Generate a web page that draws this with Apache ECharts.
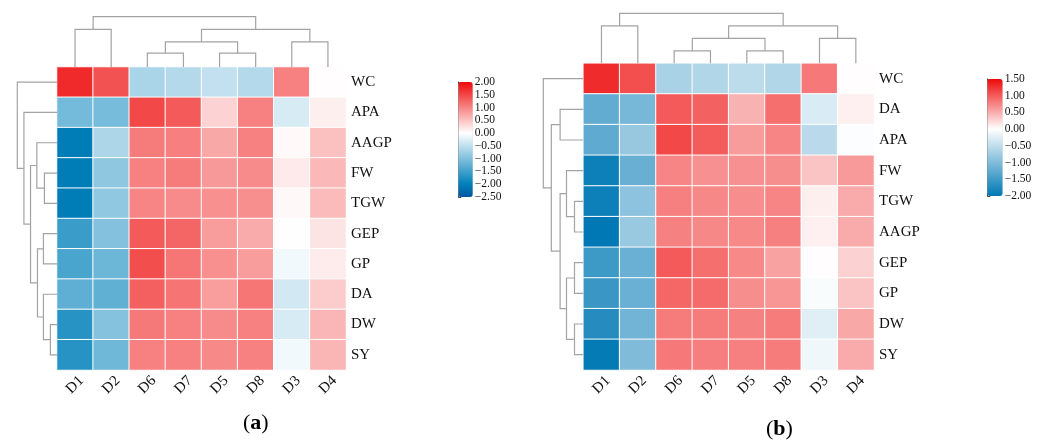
<!DOCTYPE html>
<html><head><meta charset="utf-8">
<script src="https://cdn.jsdelivr.net/npm/echarts@6/dist/echarts.min.js"></script>
<style>html,body{margin:0;padding:0;background:#fff}#c{width:1041px;height:445px}</style>
</head><body><div id="c"></div>
<script>
// ---------- data ----------
const cols = ['D1','D2','D6','D7','D5','D8','D3','D4'];
const rowsA = ['WC','APA','AAGP','FW','TGW','GEP','GP','DA','DW','SY'];
const rowsB = ['WC','DA','APA','FW','TGW','AAGP','GEP','GP','DW','SY'];

const valuesA = [
  [ 1.74, 1.41,-0.67,-0.59,-0.48,-0.59, 1.04, 0.02],
  [-1.09,-1.07, 1.49, 1.35, 0.37, 1.04,-0.31, 0.13],
  [-2.05,-0.64, 1.07, 1.05, 0.71, 1.04, 0.05, 0.52],
  [-2.05,-0.88, 1.03, 1.08, 0.84, 0.96, 0.17, 0.58],
  [-2.05,-0.87, 1.00, 0.96, 0.91, 0.92, 0.06, 0.56],
  [-1.55,-0.98, 1.35, 1.26, 0.81, 0.69, 0.01, 0.22],
  [-1.42,-1.16, 1.44, 1.13, 0.91, 0.81,-0.10, 0.16],
  [-1.26,-1.25, 1.30, 1.14, 0.80, 1.13,-0.35, 0.42],
  [-1.70,-0.96, 1.10, 1.04, 0.95, 1.04,-0.31, 0.60],
  [-1.70,-1.13, 1.04, 1.04, 0.97, 1.04,-0.10, 0.61]
];
const valuesB = [
  [ 1.30, 1.08,-0.67,-0.61,-0.52,-0.61, 0.83, 0.01],
  [-1.23,-1.07, 1.01, 0.97, 0.47, 0.88,-0.30, 0.09],
  [-1.26,-0.82, 1.12, 1.00, 0.61, 0.75,-0.54,-0.03],
  [-1.90,-1.19, 0.75, 0.68, 0.67, 0.69, 0.36, 0.62],
  [-1.90,-0.90, 0.78, 0.73, 0.70, 0.75, 0.10, 0.52],
  [-2.00,-0.81, 0.77, 0.73, 0.72, 0.78, 0.09, 0.51],
  [-1.52,-1.17, 1.01, 0.88, 0.72, 0.57, 0.01, 0.28],
  [-1.55,-1.17, 0.94, 0.91, 0.69, 0.65,-0.05, 0.36],
  [-1.70,-1.12, 0.81, 0.80, 0.77, 0.81,-0.24, 0.53],
  [-1.96,-1.00, 0.83, 0.79, 0.78, 0.81,-0.12, 0.52]
];

// dendrogram merges: [left, right, height]; numbers refer to earlier merges
const colMergesA = [['D6','D7',1.1],['D5','D8',1.1],[0,1,2.0],['D3','D4',2.0],[2,3,3.0],['D1','D2',3.0],[5,4,4.0]];
const colMergesB = [['D6','D7',1.0],['D5','D8',1.0],[0,1,2.0],['D3','D4',2.0],[2,3,3.0],['D1','D2',3.0],[5,4,4.0]];
const rowMergesA = [['FW','TGW',1.9],['AAGP',0,3.05],['GEP','GP',2.05],['DW','SY',1.0],['DA',3,2.05],[2,4,2.95],[1,5,4.0],['APA',6,5.0],['WC',7,6.0]];
const rowMergesB = [['DA','APA',2.9],['TGW','AAGP',1.1],['FW',1,2.1],['GEP','GP',1.1],['DW','SY',1.1],[3,4,2.1],[2,5,2.9],[0,6,4.0],['WC',7,5.0]];

const scaleTicksA = [-2.5, 2.0];
const scaleTicksB = [-2.0, 1.5];

// ---------- helpers ----------
function linkSegments(order, merges){
  const pos = [], hts = [], out = [];
  const get = (k) => typeof k === 'number' ? [pos[k], hts[k]] : [order.indexOf(k), 0];
  merges.forEach((m, i) => {
    const a = get(m[0]), b = get(m[1]);
    pos[i] = (a[0] + b[0]) / 2; hts[i] = m[2];
    out.push([a[0], a[1], b[0], b[1], m[2]]);
  });
  return out;
}
function heatData(vals){
  const d = [];
  vals.forEach((row, r) => row.forEach((v, c) => d.push([c, r, v])));
  return d;
}
const LINE = {stroke:'#a3a3a3', lineWidth:1.2, fill:null};
function colDendro(params, api){
  const x1=api.value(0), h1=api.value(1), x2=api.value(2), h2=api.value(3), h=api.value(4);
  return {type:'polyline', shape:{points:[api.coord([x1,h1]),api.coord([x1,h]),api.coord([x2,h]),api.coord([x2,h2])]}, style:LINE};
}
function rowDendro(params, api){
  const y1=api.value(0), h1=api.value(1), y2=api.value(2), h2=api.value(3), h=api.value(4);
  return {type:'polyline', shape:{points:[api.coord([h1,y1]),api.coord([h,y1]),api.coord([h,y2]),api.coord([h2,y2])]}, style:LINE};
}
const FONT = 'Liberation Serif';
const fmt = v => (v < 0 ? '\u2212' : '') + Math.abs(v).toFixed(2);

// layout
const L = {
  a:{hx:57, hy:67, hw:289, hh:303, colTop:16.7, rowLeft:17.3, cb:[458.3,82,14.5,115]},
  b:{hx:583.3, hy:63.3, hw:290.7, hh:306.7, colTop:13.3, rowLeft:543.3, cb:[987.3,79,15.4,117]}
};

const grids=[], xAxes=[], yAxes=[], series=[], visualMaps=[];
function build(key, rows, vals, colM, rowM, ticks, colors){
  const g = L[key], base = grids.length;
  // heatmap grid
  grids.push({left:g.hx, top:g.hy, width:g.hw, height:g.hh});
  xAxes.push({type:'category', gridIndex:base, data:cols, axisLine:{show:false}, axisTick:{show:false},
    axisLabel:{rotate:45, margin:15, align:'center', verticalAlign:'middle', fontFamily:FONT, fontSize:15, color:'#111'}});
  yAxes.push({type:'category', gridIndex:base, data:rows, inverse:true, position:'right', axisLine:{show:false}, axisTick:{show:false},
    axisLabel:{margin:5, fontFamily:FONT, fontSize:15, color:'#111'}});
  const hIdx = series.length;
  series.push({type:'heatmap', xAxisIndex:base, yAxisIndex:base, data:heatData(vals),
    itemStyle:{borderColor:'#ffffff', borderWidth:1}, emphasis:{disabled:true}});
  // column dendrogram
  grids.push({left:g.hx, top:g.colTop, width:g.hw, height:g.hy-g.colTop});
  const cm = Math.max(...colM.map(m=>m[2]));
  xAxes.push({type:'value', gridIndex:base+1, min:-0.5, max:cols.length-0.5, show:false});
  yAxes.push({type:'value', gridIndex:base+1, min:0, max:cm, show:false});
  series.push({type:'custom', xAxisIndex:base+1, yAxisIndex:base+1, renderItem:colDendro, data:linkSegments(cols,colM), clip:false, silent:true});
  // row dendrogram
  grids.push({left:g.rowLeft, top:g.hy, width:g.hx-g.rowLeft, height:g.hh});
  const rm = Math.max(...rowM.map(m=>m[2]));
  xAxes.push({type:'value', gridIndex:base+2, min:0, max:rm, inverse:true, show:false});
  yAxes.push({type:'value', gridIndex:base+2, min:-0.5, max:rows.length-0.5, inverse:true, show:false});
  series.push({type:'custom', xAxisIndex:base+2, yAxisIndex:base+2, renderItem:rowDendro, data:linkSegments(rows,rowM), clip:false, silent:true});
  // colour scale axis
  const cb = g.cb;
  grids.push({left:cb[0], top:cb[1], width:cb[2], height:cb[3]});
  xAxes.push({type:'value', gridIndex:base+3, show:false, min:0, max:1});
  yAxes.push({type:'value', gridIndex:base+3, position:'right', min:ticks[0], max:ticks[1], interval:0.5,
    splitLine:{show:false}, axisLine:{show:true, lineStyle:{color:'#444', width:1}},
    axisTick:{show:true, length:3, lineStyle:{color:'#444'}},
    axisLabel:{margin:2, fontFamily:FONT, fontSize:11.5, color:'#111', formatter:fmt}});
  visualMaps.push({type:'continuous', seriesIndex:hIdx, min:ticks[0], max:ticks[1], calculable:false, hoverLink:false,
    orient:'vertical', left:cb[0], top:cb[1], itemWidth:cb[2], itemHeight:cb[3], padding:0, text:null, showLabel:false,
    inRange:{color:colors}});
}
build('a', rowsA, valuesA, colMergesA, rowMergesA, scaleTicksA,
  ['rgb(0,85,160)','rgb(0,128,186)','rgb(64,160,203)','rgb(128,192,221)','rgb(191,223,238)','#ffffff',
   'rgb(251,194,194)','rgb(247,133,133)','rgb(242,71,71)','rgb(238,10,10)']);
build('b', rowsB, valuesB, colMergesB, rowMergesB, scaleTicksB,
  ['rgb(0,120,181)','rgb(64,154,199)','rgb(128,188,218)','rgb(191,221,236)','#ffffff',
   'rgb(249,173,173)','rgb(244,92,92)','rgb(238,10,10)']);

const chart = echarts.init(document.getElementById('c'), null, {renderer:'canvas'});
const rich = {n:{fontFamily:FONT, fontSize:22, color:'#000'}, b:{fontFamily:FONT, fontSize:22, fontWeight:'bold', color:'#000'}};
chart.setOption({
  animation:false,
  backgroundColor:'#fff',
  grid:grids, xAxis:xAxes, yAxis:yAxes, series:series, visualMap:visualMaps,
  graphic:[
    {type:'text', left:243, top:412, style:{text:'{n|(}{b|a}{n|)}', rich:rich}},
    {type:'text', left:766, top:418, style:{text:'{n|(}{b|b}{n|)}', rich:rich}}
  ]
});
</script></body></html>
